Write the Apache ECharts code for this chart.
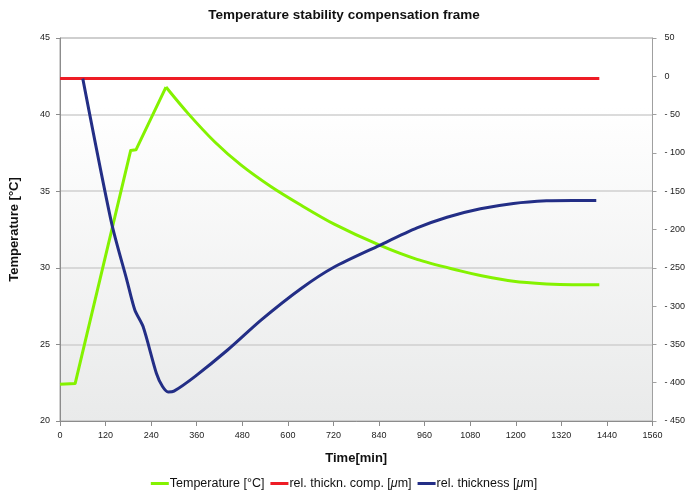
<!DOCTYPE html>
<html>
<head>
<meta charset="utf-8">
<script src="https://cdn.jsdelivr.net/npm/echarts@6/dist/echarts.min.js"></script>
<style>html,body{margin:0;padding:0;background:#fff}#c{width:688px;height:499px}</style>
</head>
<body>
<div id="c"></div>
<script>
// Temperature [°C] (left axis) — heating phase (sharp corners)
const tempRiseTime = [0, 40, 186, 200, 279];
const tempRiseVals = [22.4, 22.45, 37.65, 37.7, 41.8];
// Temperature [°C] (left axis) — cooling phase
const tempFallTime = [279, 337, 407, 477, 556, 635, 722, 840, 940, 1054, 1107, 1194, 1281, 1350, 1420];
const tempFallVals = [41.8, 40.08, 38.23, 36.7, 35.29, 34.08, 32.85, 31.49, 30.55, 29.8, 29.5, 29.12, 28.95, 28.9, 28.9];
// rel. thickn. comp. [µm] (right axis)
const compTime = [0, 1420];
const compVals = [-3, -3];
// rel. thickness [µm] (right axis)
const thickTime = [60, 136, 176, 197, 219, 254, 270, 285, 300, 355, 442, 530, 635, 722, 840, 940, 1019, 1107, 1194, 1281, 1350, 1412];
const thickVals = [-3, -192, -266, -305, -327, -388, -405, -412, -411, -392, -357, -318, -277, -249, -221, -198, -184, -173, -166, -162.5, -162, -162];
const seriesNames = ['Temperature [°C]', 'rel. thickn. comp. [μm]', 'rel. thickness [μm]'];
const xTicks = {min: 0, max: 1560, interval: 120};
const leftTicks = {min: 20, max: 45, interval: 5};
const rightTicks = {min: -450, max: 50, interval: 50};

const zip = (a, b) => a.map((t, i) => [t, b[i]]);
const FONT = '"Liberation Sans Narrow", "Arial Narrow", "Liberation Sans", Arial, sans-serif';
const GREEN = '#84f200', RED = '#ee1c25', BLUE = '#232e86';
const chart = echarts.init(document.getElementById('c'));
chart.setOption({
  animation: false,
  backgroundColor: '#ffffff',
  title: {
    text: 'Temperature stability compensation frame',
    left: 'center', top: 3,
    textStyle: {fontFamily: FONT, fontWeight: 'bold', fontSize: 13.5, color: '#111'}
  },
  grid: {
    left: 58, right: 35, top: 38, bottom: 78,
    show: true, borderColor: '#a0a0a0', borderWidth: 1,
    backgroundColor: {
      type: 'linear', x: 0, y: 0, x2: 0, y2: 1,
      colorStops: [{offset: 0, color: '#ffffff'}, {offset: 0.18, color: '#ffffff'}, {offset: 1, color: '#e9eaea'}]
    }
  },
  legend: {
    bottom: 4, left: 'center',
    itemWidth: 18, itemHeight: 3, itemGap: 6,
    icon: 'rect',
    textStyle: {fontFamily: FONT, fontSize: 12.5, color: '#111', padding: [0,0,0,-4],
      rich: {i: {fontFamily: FONT, fontSize: 12.5, fontStyle: 'italic', color: '#111'}}},
    formatter: n => n.replace('μ', '{i|μ}'),
    data: seriesNames
  },
  xAxis: {
    type: 'value', min: xTicks.min, max: xTicks.max, interval: xTicks.interval,
    name: 'Time[min]', nameLocation: 'middle', nameGap: 31,
    nameTextStyle: {fontFamily: FONT, fontWeight: 'bold', fontSize: 13, color: '#111'},
    axisLine: {onZero: false, lineStyle: {color: '#8c8c8c', width: 1}},
    axisTick: {show: true, length: 5, lineStyle: {color: '#8c8c8c'}},
    axisLabel: {fontFamily: FONT, fontSize: 9, color: '#222', margin: 10, formatter: v => String(v)},
    splitLine: {show: false}
  },
  yAxis: [{
    type: 'value', min: leftTicks.min, max: leftTicks.max, interval: leftTicks.interval,
    name: 'Temperature [°C]', nameLocation: 'middle', nameGap: 39, nameRotate: 90,
    nameTextStyle: {fontFamily: FONT, fontWeight: 'bold', fontSize: 13, color: '#111'},
    axisLine: {show: true, onZero: false, lineStyle: {color: '#8c8c8c', width: 1}},
    axisTick: {show: true, length: 4, lineStyle: {color: '#8c8c8c'}},
    axisLabel: {fontFamily: FONT, fontSize: 9, color: '#222', margin: 10},
    splitLine: {show: true, lineStyle: {color: '#cfcfcf', width: 1.5}}
  }, {
    type: 'value', min: rightTicks.min, max: rightTicks.max, interval: rightTicks.interval,
    position: 'right',
    axisLine: {show: true, onZero: false, lineStyle: {color: '#a0a0a0', width: 1}},
    axisTick: {show: true, length: 4, lineStyle: {color: '#a0a0a0'}},
    axisLabel: {fontFamily: FONT, fontSize: 9, color: '#222', margin: 12,
      formatter: v => v < 0 ? '- ' + Math.abs(v) : String(v)},
    splitLine: {show: false}
  }],
  series: [{
    name: seriesNames[0], type: 'line', yAxisIndex: 0, data: zip(tempRiseTime, tempRiseVals),
    symbol: 'none', smooth: false,
    lineStyle: {color: GREEN, width: 3, join: 'round'}, itemStyle: {color: GREEN}, z: 3
  }, {
    name: seriesNames[0], type: 'line', yAxisIndex: 0, data: zip(tempFallTime, tempFallVals),
    symbol: 'none', smooth: 0.3,
    lineStyle: {color: GREEN, width: 3}, itemStyle: {color: GREEN}, z: 3
  }, {
    name: seriesNames[1], type: 'line', yAxisIndex: 1, data: zip(compTime, compVals),
    symbol: 'none',
    lineStyle: {color: RED, width: 3}, itemStyle: {color: RED}, z: 2
  }, {
    name: seriesNames[2], type: 'line', yAxisIndex: 1, data: zip(thickTime, thickVals),
    symbol: 'none', smooth: 0.25,
    lineStyle: {color: BLUE, width: 3}, itemStyle: {color: BLUE}, z: 4
  }]
});
</script>
</body>
</html>
